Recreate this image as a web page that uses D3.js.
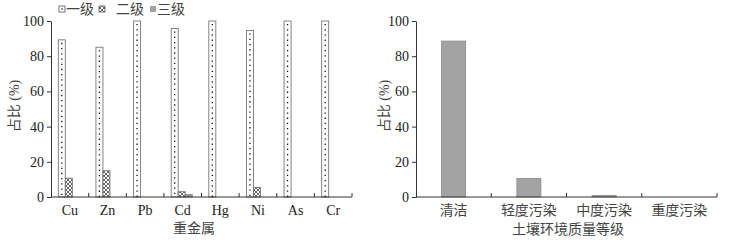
<!DOCTYPE html>
<html>
<head>
<meta charset="utf-8">
<script src="https://cdn.jsdelivr.net/npm/d3@7"></script>
<style>
  body { margin: 0; background: #fff; }
  text { font-family: "Liberation Serif", "Noto Sans CJK SC", serif; fill: #222; }
  text.cjk { fill: #444; }
</style>
</head>
<body>
<div id="chart"></div>
<script>
// left panel: share of samples in each grade, per heavy metal
var metals = ['Cu', 'Zn', 'Pb', 'Cd', 'Hg', 'Ni', 'As', 'Cr'];
var grade1 = [89.3, 85.1, 100, 95.7, 100, 94.6, 100, 100];
var grade2 = [10.7, 14.9, 0, 3.0, 0, 5.4, 0, 0];
var grade3 = [0, 0, 0, 1.3, 0, 0, 0, 0];
var gradeNames = ['一级', '二级', '三级'];

// right panel: soil environmental quality level
var levels = ['清洁', '轻度污染', '中度污染', '重度污染'];
var levelShare = [88.6, 10.6, 0.9, 0];

var yTicks = [0, 20, 40, 60, 80, 100];

var W = 731, H = 243;
var svg = d3.select('#chart').append('svg')
  .attr('width', W)
  .attr('height', H);

svg.append('rect').attr('width', W).attr('height', H).attr('fill', '#fff');

var defs = svg.append('defs');
var hatch = defs.append('pattern')
  .attr('id', 'hatch')
  .attr('patternUnits', 'userSpaceOnUse')
  .attr('width', 4)
  .attr('height', 4);
hatch.append('rect').attr('width', 4).attr('height', 4).attr('fill', '#fff');
hatch.append('path')
  .attr('d', 'M0,0L4,4M4,0L0,4')
  .attr('stroke', '#555')
  .attr('stroke-width', 0.9);

var y = d3.scaleLinear().domain([0, 100]).range([197, 21]);

function drawYAxis(x0) {
  var g = svg.append('g').attr('transform', 'translate(' + x0 + ',0)');
  g.call(d3.axisLeft(y).tickValues(yTicks).tickSize(4).tickSizeOuter(0).tickPadding(3));
  g.select('.domain').attr('stroke', '#333');
  g.selectAll('.tick line').attr('stroke', '#333');
  g.selectAll('.tick text')
    .attr('font-size', 14)
    .attr('font-family', '"Liberation Serif", serif')
    .attr('fill', '#222');
}

function drawXAxis(x, cjk) {
  var g = svg.append('g');
  var r = x.range();
  g.append('line')
    .attr('x1', r[0]).attr('x2', r[1])
    .attr('y1', y(0)).attr('y2', y(0))
    .attr('stroke', '#333');
  g.selectAll('line.tick').data(x.domain())
    .enter().append('line')
    .attr('class', 'tick')
    .attr('x1', function(d) { return x(d) + x.bandwidth(); })
    .attr('x2', function(d) { return x(d) + x.bandwidth(); })
    .attr('y1', y(0))
    .attr('y2', y(0) - 4)
    .attr('stroke', '#333');
  g.selectAll('text').data(x.domain())
    .enter().append('text')
    .attr('class', cjk ? 'cjk' : null)
    .attr('x', function(d) { return x(d) + x.bandwidth() / 2; })
    .attr('y', 215)
    .attr('text-anchor', 'middle')
    .attr('font-size', 14)
    .text(function(d) { return d; });
}

function yTitle(xPos) {
  var t = svg.append('text')
    .attr('class', 'cjk')
    .attr('transform', 'translate(' + xPos + ',106) rotate(-90)')
    .attr('text-anchor', 'middle')
    .attr('font-size', 14);
  t.append('tspan').text('占比 ');
  t.append('tspan').attr('font-family', '"Liberation Serif", serif').text('(%)');
}

// ---- left chart ----
var xL = d3.scaleBand().domain(metals).range([51, 352]);
var barW = 7;
var groupOff = (xL.bandwidth() - 3 * barW) / 2 - 1;

var series = [grade1, grade2, grade3];
var fills = ['#fff', 'url(#hatch)', '#a3a3a3'];

var left = svg.append('g');
series.forEach(function(vals, k) {
  left.selectAll('rect.g' + k).data(metals)
    .enter().append('rect')
    .attr('class', 'g' + k)
    .attr('x', function(d) { return xL(d) + groupOff + k * barW; })
    .attr('y', function(d, i) { return y(vals[i]); })
    .attr('width', barW)
    .attr('height', function(d, i) { return y(0) - y(vals[i]); })
    .attr('fill', fills[k])
    .attr('stroke', function(d, i) { return vals[i] > 0 ? '#777' : 'none'; })
    .attr('stroke-width', 0.9);
});

// dotted centre line of grade 1 bars
left.selectAll('line.dots').data(metals)
  .enter().append('line')
  .attr('x1', function(d) { return xL(d) + groupOff + barW / 2; })
  .attr('x2', function(d) { return xL(d) + groupOff + barW / 2; })
  .attr('y1', function(d, i) { return y(grade1[i]) + 3; })
  .attr('y2', y(0))
  .attr('stroke', '#111')
  .attr('stroke-width', 1.3)
  .attr('stroke-dasharray', '1.3 3.9');

drawXAxis(xL, false);
drawYAxis(51);
yTitle(19);

svg.append('text')
  .attr('class', 'cjk')
  .attr('x', 194).attr('y', 233)
  .attr('text-anchor', 'middle')
  .attr('font-size', 14)
  .text('重金属');

// legend
var legend = svg.append('g');
var legX = [59, 99, 150];
var legTextX = [66, 116, 157];
gradeNames.forEach(function(name, k) {
  legend.append('rect')
    .attr('x', legX[k]).attr('y', 6)
    .attr('width', 6).attr('height', 6)
    .attr('fill', fills[k])
    .attr('stroke', k === 2 ? 'none' : '#555')
    .attr('stroke-width', 0.8);
  if (k === 0) {
    legend.append('circle').attr('cx', legX[k] + 3).attr('cy', 9).attr('r', 0.8).attr('fill', '#111');
  }
  legend.append('text')
    .attr('class', 'cjk')
    .attr('x', legTextX[k]).attr('y', 14)
    .attr('font-size', 14)
    .text(name);
});

// ---- right chart ----
var xR = d3.scaleBand().domain(levels).range([416, 717]);
var right = svg.append('g');
right.selectAll('rect').data(levels)
  .enter().append('rect')
  .attr('x', function(d) { return xR(d) + (xR.bandwidth() - 24) / 2; })
  .attr('y', function(d, i) { return y(levelShare[i]); })
  .attr('width', 24)
  .attr('height', function(d, i) { return y(0) - y(levelShare[i]); })
  .attr('fill', '#a3a3a3')
  .attr('stroke', function(d, i) { return levelShare[i] > 0 ? '#8a8a8a' : 'none'; })
  .attr('stroke-width', 0.8);

drawXAxis(xR, true);
drawYAxis(416);
yTitle(389);

svg.append('text')
  .attr('class', 'cjk')
  .attr('x', 568).attr('y', 234)
  .attr('text-anchor', 'middle')
  .attr('font-size', 14)
  .text('土壤环境质量等级');
</script>
</body>
</html>
